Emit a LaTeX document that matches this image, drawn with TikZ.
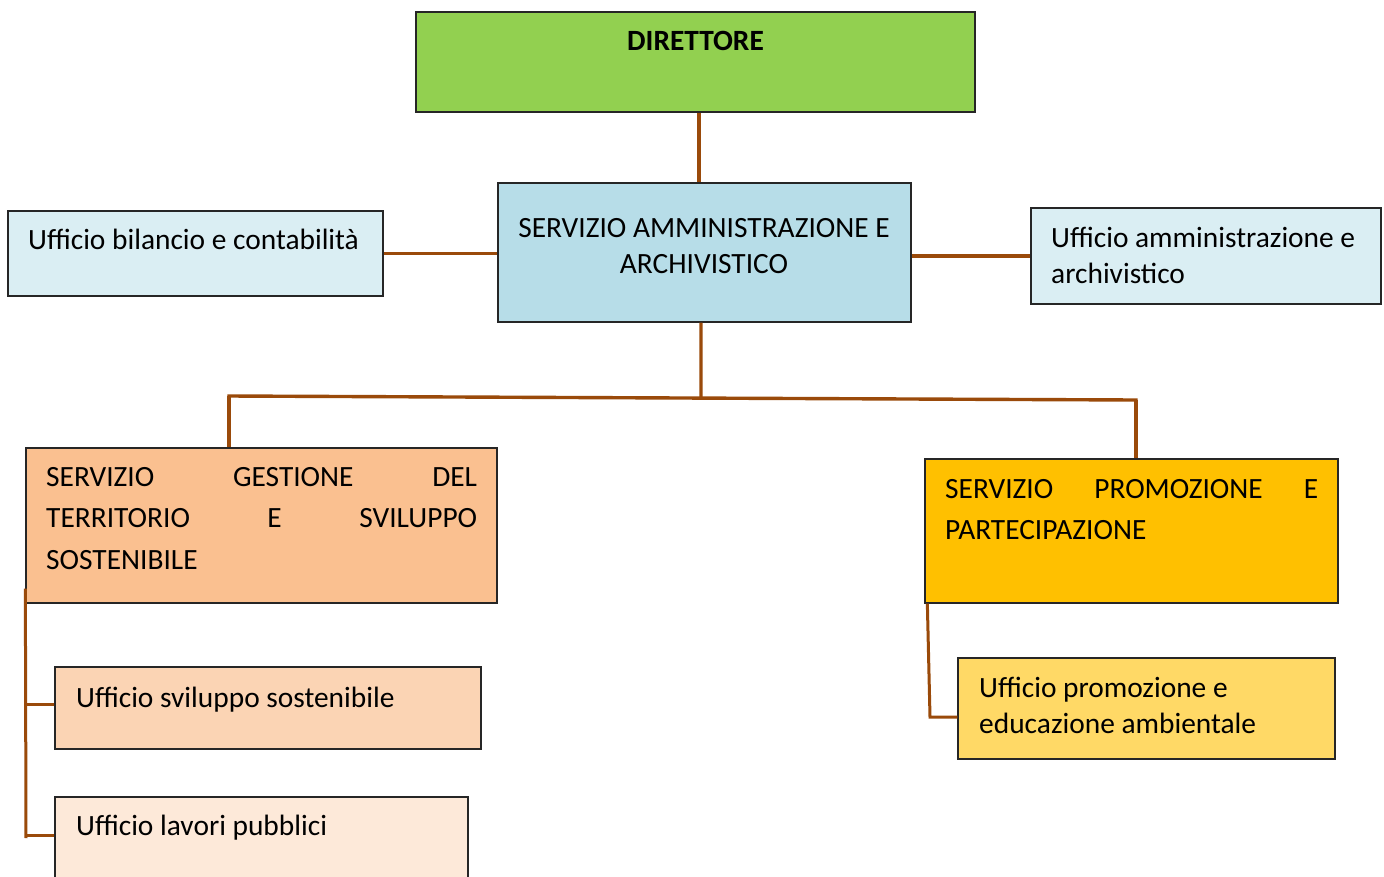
\documentclass[tikz,border=0pt]{standalone}
\usepackage{fontspec}
\setmainfont{Carlito}
\usetikzlibrary{calc}
\definecolor{cgreen}{HTML}{92D050}
\definecolor{csam}{HTML}{B7DDE8}
\definecolor{clblue}{HTML}{DAEEF3}
\definecolor{corange}{HTML}{FAC090}
\definecolor{cyellow}{HTML}{FFC000}
\definecolor{clyellow}{HTML}{FFD966}
\definecolor{cpeach}{HTML}{FBD4B4}
\definecolor{cpale}{HTML}{FDE9D9}
\definecolor{cconn}{HTML}{9A4A0A}
\tikzset{
  box/.style={draw=black!85, line width=1.3pt, inner sep=0pt, rectangle},
  conn/.style={draw=cconn, line width=3.4pt},
  lbl/.style={inner sep=0pt, anchor=base west, align=left, font=\fontsize{29.4}{36}\selectfont},
}
\begin{document}
\begin{tikzpicture}[x=1pt,y=-1pt]
\clip (0,0) rectangle (1384,876);
\fill[white] (0,0) rectangle (1384,876);
% boxes
\node[box, fill=cgreen, minimum width=559pt, minimum height=100pt] (dir) at (695.5,62) {};
\node[box, fill=csam, minimum width=413pt, minimum height=139pt] (sam) at (704.5,252.5) {};
\node[box, fill=clblue, minimum width=375pt, minimum height=85pt] (bil) at (195.5,253.5) {};
\node[box, fill=clblue, minimum width=350pt, minimum height=96pt] (amm) at (1206,256) {};
\node[box, fill=corange, minimum width=471pt, minimum height=155pt] (sgt) at (261.5,525.5) {};
\node[box, fill=cyellow, minimum width=413pt, minimum height=144pt] (spp) at (1131.5,531) {};
\node[box, fill=clyellow, minimum width=377pt, minimum height=101pt] (upr) at (1146.5,708.5) {};
\node[box, fill=cpeach, minimum width=426pt, minimum height=82pt] (usv) at (268,708) {};
\node[box, fill=cpale, minimum width=413pt, minimum height=140pt] (ulp) at (261.5,867) {};

% texts (base = baseline of the last line)
\node[lbl, anchor=base, font=\fontsize{29.4}{36}\selectfont\bfseries] (tdir) at (695.5,50) {DIRETTORE};
\node[lbl, anchor=base, align=center] (tsam) at (704,273) {SERVIZIO AMMINISTRAZIONE E\\ARCHIVISTICO};
\node[lbl] (tbil) at (28,249) {Ufficio bilancio e contabilità};
\node[lbl] (tamm) at (1051,283) {Ufficio amministrazione e\\archivistico};
\node[lbl, font=\fontsize{29.4}{41.5}\selectfont] (tsgt) at (46,569) {\makebox[431pt][s]{SERVIZIO GESTIONE DEL}\\\makebox[431pt][s]{TERRITORIO E SVILUPPO}\\SOSTENIBILE};
\node[lbl, font=\fontsize{29.4}{41}\selectfont] (tspp) at (945,539) {\makebox[373pt][s]{SERVIZIO PROMOZIONE E}\\PARTECIPAZIONE};
\node[lbl] (tupr) at (979,733) {Ufficio promozione e\\educazione ambientale};
\node[lbl] (tusv) at (76,707) {Ufficio sviluppo sostenibile};
\node[lbl] (tulp) at (76,835) {Ufficio lavori pubblici};

% connectors
\draw[conn] ([xshift=3.5pt]dir.south) -- ([xshift=3.5pt]dir.south |- sam.north);
\draw[conn] (bil.east) -- (bil.east -| sam.west);
\draw[conn] (sam.east |- amm.west) -- (amm.west);
\coordinate (jl) at (229,396);
\coordinate (jr) at (1136,400);
\coordinate (jm) at ($(jl)!0.5204!(jr)$);
\draw[conn, line cap=rect] (jl) -- (jr);
\draw[conn] ([xshift=-3.5pt]sam.south) -- (jm);
\draw[conn] (jl) -- (jl |- sgt.north);
\draw[conn] (jr) -- (jr |- spp.north);
\coordinate (lt) at ([yshift=15pt]sgt.south west);
\coordinate (lb) at (26,838);
\draw[conn, line width=3pt] (lt) -- (lb);
\draw[conn, line width=3pt] ([yshift=4pt]usv.west) -- ([yshift=4pt]usv.west -| lt);
\draw[conn, line width=3pt] ([yshift=-39pt]ulp.north west) -- ([yshift=-39pt]ulp.north west -| lt);
\coordinate (rc) at (930,717);
\draw[conn, line width=3pt] ([xshift=3pt]spp.south west) -- (rc) -- (rc -| upr.west);
\end{tikzpicture}
\end{document}
